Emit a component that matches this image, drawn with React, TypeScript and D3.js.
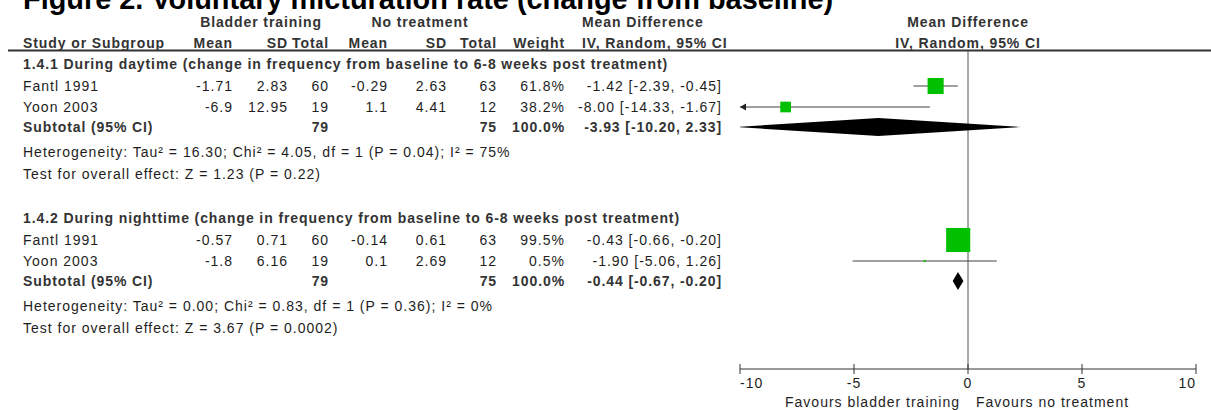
import React from 'react';
import * as d3 from 'd3';

// ---------- data ----------
const titleText = 'Figure 2. Voluntary micturation rate (change from baseline)';
const groupHeaders = ['Bladder training', 'No treatment', 'Mean Difference', 'Mean Difference'];
const columnHeaders = ['Study or Subgroup', 'Mean', 'SD', 'Total', 'Mean', 'SD', 'Total', 'Weight', 'IV, Random, 95% CI'];
const subgroupTitles = [
  '1.4.1 During daytime (change in frequency from baseline to 6-8 weeks post treatment)',
  '1.4.2 During nighttime (change in frequency from baseline to 6-8 weeks post treatment)',
];
const studyNames = [['Fantl 1991', 'Yoon 2003'], ['Fantl 1991', 'Yoon 2003']];
const btMean = [['-1.71', '-6.9'], ['-0.57', '-1.8']];
const btSD = [['2.83', '12.95'], ['0.71', '6.16']];
const btTotal = [[60, 19], [60, 19]];
const ntMean = [['-0.29', '1.1'], ['-0.14', '0.1']];
const ntSD = [['2.63', '4.41'], ['0.61', '2.69']];
const ntTotal = [[63, 12], [63, 12]];
const weights = [[61.8, 38.2], [99.5, 0.5]];
const md = [[-1.42, -8.0], [-0.43, -1.9]];
const ciLow = [[-2.39, -14.33], [-0.66, -5.06]];
const ciHigh = [[-0.45, -1.67], [-0.2, 1.26]];
const subBT = [79, 79];
const subNT = [75, 75];
const subWeight = [100.0, 100.0];
const subMd = [-3.93, -0.44];
const subLow = [-10.2, -0.67];
const subHigh = [2.33, -0.2];
const heterogeneity = [
  'Heterogeneity: Tau² = 16.30; Chi² = 4.05, df = 1 (P = 0.04); I² = 75%',
  'Heterogeneity: Tau² = 0.00; Chi² = 0.83, df = 1 (P = 0.36); I² = 0%',
];
const overallEffect = [
  'Test for overall effect: Z = 1.23 (P = 0.22)',
  'Test for overall effect: Z = 3.67 (P = 0.0002)',
];
const axisTicks = [-10, -5, 0, 5, 10];
const favoursLabels = ['Favours bladder training', 'Favours no treatment'];

// ---------- layout ----------
const W = 1211;
const H = 410;
const FONT = '"Liberation Sans", Arial, Helvetica, sans-serif';
const TXT = '#1e1e1e';
const BOLD = '#333333';
const GREEN = '#00c000';

const x = d3.scaleLinear().domain([-10, 10]).range([740, 1196]);
const boxSize = d3.scalePow().exponent(0.85).domain([0, 100]).range([0, 24.2]);

const colRight = [0, 233, 288, 329, 388, 447, 497, 565, 722];
const groupTop = [64, 218];
const rowOff = { title: 0, s0: 22, s1: 43, sub: 63, het: 88, test: 110 };
const axisY = 369;

const fmt2 = (v: number) => v.toFixed(2);
const ciText = (m: number, lo: number, hi: number) => `${fmt2(m)} [${fmt2(lo)}, ${fmt2(hi)}]`;

function T({ x: tx, y, children, anchor = 'start', bold = false, size = 14, fill }: any) {
  return (
    <text
      x={tx}
      y={y + 5}
      textAnchor={anchor}
      fontFamily={FONT}
      fontSize={size}
      fontWeight={bold ? 'bold' : 'normal'}
      letterSpacing={bold ? 0.9 : 1}
      fill={fill || (bold ? BOLD : TXT)}
    >
      {children}
    </text>
  );
}

export default function App() {
  const x0 = x(0);
  return (
    <svg width={W} height={H} style={{ position: 'absolute', left: 0, top: 0, background: '#fff' }}>
      <defs>
        <clipPath id="plotClip">
          <rect x={x(-10)} y={0} width={x(10) - x(-10)} height={H} />
        </clipPath>
      </defs>
      <rect width={W} height={H} fill="#fff" />
      {/* title */}
      <text x={23} y={9} fontFamily={FONT} fontSize={28.9} fontWeight="bold" fill="#000">
        {titleText}
      </text>

      {/* header row 1 */}
      <T x={261} y={22} anchor="middle" bold>{groupHeaders[0]}</T>
      <T x={420} y={22} anchor="middle" bold>{groupHeaders[1]}</T>
      <T x={582} y={22} anchor="start" bold>{groupHeaders[2]}</T>
      <T x={x0} y={22} anchor="middle" bold>{groupHeaders[3]}</T>

      {/* header row 2 */}
      <T x={23} y={43} bold>{columnHeaders[0]}</T>
      {columnHeaders.slice(1, 8).map((h, i) => (
        <T key={h + i} x={colRight[i + 1]} y={43} anchor="end" bold>{h}</T>
      ))}
      <T x={582} y={43} anchor="start" bold>{columnHeaders[8]}</T>
      <T x={x0} y={43} anchor="middle" bold>{columnHeaders[8]}</T>
      <line x1={8} x2={W} y1={50.5} y2={50.5} stroke="#333" strokeWidth={2} />

      {/* zero line */}
      <line x1={x0} x2={x0} y1={51} y2={axisY} stroke="#555" strokeWidth={1} />

      {subgroupTitles.map((st, g) => {
        const top = groupTop[g];
        const rows = [top + rowOff.s0, top + rowOff.s1];
        const subY = top + rowOff.sub;
        const dTop = 9;
        const c = x(subMd[g]);
        const l = x(subLow[g]);
        const r = x(subHigh[g]);
        return (
          <g key={g}>
            <T x={23} y={top} bold>{st}</T>
            {studyNames[g].map((name, i) => {
              const y = rows[i];
              const s = Math.max(2, boxSize(weights[g][i]));
              const lo = Math.max(ciLow[g][i], -10);
              const hi = Math.min(ciHigh[g][i], 10);
              return (
                <g key={name}>
                  <T x={23} y={y}>{name}</T>
                  <T x={colRight[1]} y={y} anchor="end">{btMean[g][i]}</T>
                  <T x={colRight[2]} y={y} anchor="end">{btSD[g][i]}</T>
                  <T x={colRight[3]} y={y} anchor="end">{btTotal[g][i]}</T>
                  <T x={colRight[4]} y={y} anchor="end">{ntMean[g][i]}</T>
                  <T x={colRight[5]} y={y} anchor="end">{ntSD[g][i]}</T>
                  <T x={colRight[6]} y={y} anchor="end">{ntTotal[g][i]}</T>
                  <T x={colRight[7]} y={y} anchor="end">{weights[g][i].toFixed(1) + '%'}</T>
                  <T x={colRight[8]} y={y} anchor="end">{ciText(md[g][i], ciLow[g][i], ciHigh[g][i])}</T>
                  <line x1={x(lo)} x2={x(hi)} y1={y} y2={y} stroke="#404040" strokeWidth={1} />
                  {ciLow[g][i] < -10 && (
                    <path d={`M${x(-10)},${y} L${x(-10) + 6},${y - 3.5} L${x(-10) + 6},${y + 3.5} Z`} fill="#222" />
                  )}
                  {ciHigh[g][i] > 10 && (
                    <path d={`M${x(10)},${y} L${x(10) - 6},${y - 3.5} L${x(10) - 6},${y + 3.5} Z`} fill="#222" />
                  )}
                  <rect x={x(md[g][i]) - s / 2} y={y - s / 2} width={s} height={s} fill={GREEN} />
                </g>
              );
            })}
            <T x={23} y={subY} bold>Subtotal (95% CI)</T>
            <T x={colRight[3]} y={subY} anchor="end" bold>{subBT[g]}</T>
            <T x={colRight[6]} y={subY} anchor="end" bold>{subNT[g]}</T>
            <T x={colRight[7]} y={subY} anchor="end" bold>{subWeight[g].toFixed(1) + '%'}</T>
            <T x={colRight[8]} y={subY} anchor="end" bold>{ciText(subMd[g], subLow[g], subHigh[g])}</T>
            <path
              clipPath="url(#plotClip)"
              d={`M${l},${subY} L${c},${subY - dTop} L${r},${subY} L${c},${subY + dTop} Z`}
              fill="#000"
            />
            <T x={23} y={top + rowOff.het}>{heterogeneity[g]}</T>
            <T x={23} y={top + rowOff.test}>{overallEffect[g]}</T>
          </g>
        );
      })}

      {/* axis */}
      <line x1={x(-10)} x2={x(10)} y1={axisY} y2={axisY} stroke="#333" strokeWidth={1} />
      {axisTicks.map((t, i) => (
        <g key={t}>
          <line x1={x(t)} x2={x(t)} y1={axisY - 5} y2={axisY + 5} stroke="#333" strokeWidth={1} />
          <T
            x={x(t)}
            y={383}
            anchor={i === 0 ? 'start' : i === axisTicks.length - 1 ? 'end' : 'middle'}
          >
            {String(t)}
          </T>
        </g>
      ))}
      <T x={x0 - 8} y={402} anchor="end">{favoursLabels[0]}</T>
      <T x={x0 + 8} y={402} anchor="start">{favoursLabels[1]}</T>
    </svg>
  );
}
